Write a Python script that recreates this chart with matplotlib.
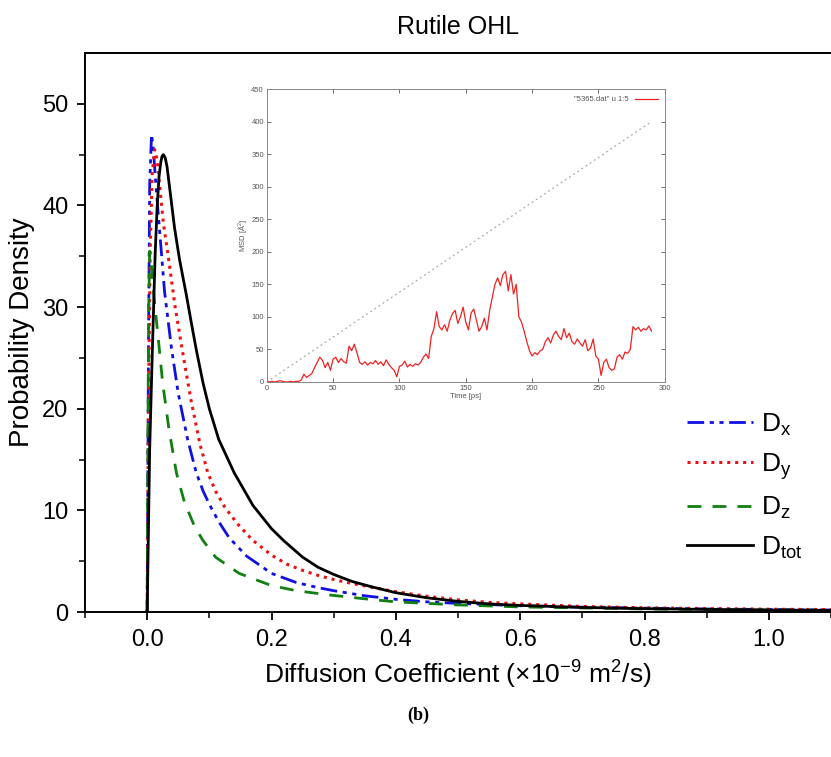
import matplotlib
matplotlib.use('Agg')
import matplotlib.pyplot as plt
import numpy as np

plt.rcParams['font.family'] = ['Liberation Sans', 'DejaVu Sans']
plt.rcParams['mathtext.fontset'] = 'custom'
plt.rcParams['mathtext.rm'] = 'Liberation Sans'
plt.rcParams['mathtext.it'] = 'Liberation Sans:italic'
plt.rcParams['mathtext.default'] = 'regular'

# Probability density curves
dx_x = [0, 0.002, 0.004, 0.007, 0.01, 0.014, 0.02, 0.028, 0.039, 0.05, 0.065, 0.079, 0.09,
        0.1, 0.115, 0.132, 0.16, 0.2, 0.24, 0.275, 0.3, 0.35, 0.4, 0.45, 0.5, 0.6, 0.7,
        0.8, 0.9, 1.0, 1.1]
dx_y = [0, 25, 42, 47, 45.5, 42, 37.5, 31.5, 26, 21.5, 17, 13.7, 11.9,
        10.6, 8.9, 7.3, 5.5, 3.8, 2.9, 2.4, 2.1, 1.6, 1.25, 1.0, 0.85, 0.62, 0.48,
        0.38, 0.3, 0.25, 0.2]

dy_x = [0, 0.002, 0.005, 0.008, 0.012, 0.016, 0.02, 0.026, 0.035, 0.045, 0.055, 0.07, 0.085,
        0.0975, 0.11, 0.125, 0.145, 0.169, 0.2, 0.225, 0.25, 0.275, 0.3, 0.33, 0.36, 0.4,
        0.45, 0.5, 0.55, 0.6, 0.7, 0.8, 0.9, 1.0, 1.1]
dy_y = [0, 20, 36, 43, 45.5, 44.5, 42, 38.3, 34.5, 30, 26.3, 21, 16.5,
        13.7, 11.9, 10.3, 8.7, 7.1, 5.6, 4.7, 4.1, 3.6, 3.2, 2.8, 2.45, 2.0,
        1.55, 1.2, 0.95, 0.8, 0.55, 0.42, 0.34, 0.28, 0.24]

dz_x = [0, 0.001, 0.0025, 0.004, 0.007, 0.011, 0.018, 0.025, 0.035, 0.047, 0.06, 0.075, 0.089,
        0.11, 0.148, 0.2, 0.24, 0.29, 0.35, 0.4, 0.5, 0.6, 0.7, 0.8, 0.9, 1.0, 1.1]
dz_y = [0, 15, 30, 35.5, 34, 31, 26.8, 22.5, 18, 13.7, 10.8, 8.6, 7.1,
        5.4, 3.8, 2.6, 2.1, 1.7, 1.3, 1.0, 0.7, 0.5, 0.4, 0.3, 0.25, 0.2, 0.18]

dtot_x = [0, 0.002, 0.004, 0.008, 0.0127, 0.016, 0.019, 0.022, 0.024, 0.026, 0.029, 0.032,
          0.038, 0.044, 0.052, 0.063, 0.07, 0.079, 0.09, 0.1, 0.115, 0.14, 0.17, 0.2, 0.22,
          0.25, 0.275, 0.3, 0.33, 0.36, 0.4, 0.45, 0.5, 0.55, 0.6, 0.7, 0.8, 0.9, 1.0, 1.1]
dtot_y = [0, 8, 16, 25, 35, 39.8, 42.8, 44.3, 44.85, 45, 44.7, 43.8,
          40.8, 37.8, 34.7, 31.2, 28.8, 25.8, 22.5, 20, 17, 13.7, 10.5, 8.2, 7.0,
          5.4, 4.4, 3.7, 3.0, 2.5, 1.9, 1.4, 1.05, 0.8, 0.65, 0.45, 0.33, 0.26, 0.2, 0.16]

# Inset: MSD trace (every 2 ps) and reference line
msd_step = 2
msd = [1, 0, 1, 0, 1, 2, 1, 0, 0, 1,
       0, 1, 1, 3, 12, 7, 10, 13, 22, 30,
       38, 33, 22, 30, 18, 35, 38, 30, 36, 31,
       29, 55, 48, 58, 45, 30, 27, 31, 26, 30,
       28, 33, 27, 31, 25, 34, 27, 22, 18, 8,
       24, 26, 32, 23, 27, 24, 28, 26, 30, 38,
       43, 36, 70, 82, 108, 85, 80, 88, 78, 95,
       105, 110, 90, 100, 115, 92, 80, 106, 112, 95,
       78, 85, 98, 80, 110, 130, 150, 160, 148, 165,
       170, 140, 165, 135, 150, 100, 92, 78, 62, 48,
       40, 45, 42, 48, 50, 62, 68, 60, 72, 78,
       70, 65, 82, 68, 75, 62, 58, 66, 60, 55,
       65, 48, 52, 66, 40, 35, 10, 30, 35, 22,
       18, 20, 38, 42, 35, 46, 44, 50, 85, 80,
       84, 78, 82, 80, 86, 78]
ref_t = [0, 290]
ref_msd = [0, 400]

fig = plt.figure(figsize=(8.31, 7.57), dpi=100)
ax = fig.add_axes([0.1023, 0.1915, 0.8977, 0.7385])

ax.plot(dx_x, dx_y, color='#1010e0', lw=2.0, dashes=(6, 2, 1.5, 2, 1.5, 2), label='D$_x$')
ax.plot(dy_x, dy_y, color='#ee1010', lw=2.2, dashes=(1, 1.6), label='D$_y$')
ax.plot(dz_x, dz_y, color='#108010', lw=2.0, dashes=(5, 4), label='D$_z$')
ax.plot(dtot_x, dtot_y, color='black', lw=2.0, label='D$_{tot}$')

ax.set_xlim(-0.1, 1.086)
ax.set_ylim(0, 55)
ax.set_xticks([0.0, 0.2, 0.4, 0.6, 0.8, 1.0])
ax.set_xticks(np.arange(-0.1, 1.1, 0.1), minor=True)
ax.set_yticks([0, 10, 20, 30, 40, 50])
ax.set_yticks(np.arange(0, 55, 5), minor=True)
ax.tick_params(which='major', direction='out', length=6, width=1.3, labelsize=17, pad=6)
ax.tick_params(which='minor', direction='out', length=4, width=1.1)
ax.spines['right'].set_visible(False)
for s in ['left', 'bottom', 'top']:
    ax.spines[s].set_linewidth(1.4)

ax.set_xlabel('Diffusion Coefficient (×10$^{-9}$ m$^2$/s)', fontsize=19, labelpad=6)
ax.set_ylabel('Probability Density', fontsize=20, labelpad=5)
ax.set_title('Rutile OHL', fontsize=18, pad=14)

ax.legend(loc='upper left', bbox_to_anchor=(0.798, 0.4875), bbox_transform=fig.transFigure,
          frameon=False, fontsize=19, handlelength=2.5, labelspacing=0.5, handletextpad=0.3)

fig.text(0.503, 0.055, '(b)', fontsize=13, fontweight='bold', family='Liberation Serif',
         ha='center', va='center')

# Inset MSD plot
ins = fig.add_axes([0.321, 0.4954, 0.479, 0.387])
t = np.arange(len(msd)) * msd_step
ins.plot(ref_t, ref_msd, color='#aaaaaa', lw=0.9, dashes=(1.5, 2.5))
ins.plot(t, msd, color='#ee2222', lw=0.9, label='"5365.dat" u 1:5')
ins.set_xlim(0, 300)
ins.set_ylim(0, 450)
ins.set_xticks(range(0, 301, 50))
ins.set_yticks(range(0, 451, 50))
ins.tick_params(direction='in', length=3, width=0.6, labelsize=5.5, colors='#555555',
                top=True, right=True, pad=2)
for s in ins.spines.values():
    s.set_color('#888888')
    s.set_linewidth(0.7)
ins.set_xlabel('Time [ps]', fontsize=5.5, color='#555555', labelpad=1)
ins.set_ylabel('MSD [Å$^2$]', fontsize=5.5, color='#555555', labelpad=2)
leg = ins.legend(loc='upper right', frameon=False, fontsize=5.5, handlelength=3,
                 markerfirst=False)
for txt in leg.get_texts():
    txt.set_color('#555555')

plt.savefig('out.png', dpi=100)
